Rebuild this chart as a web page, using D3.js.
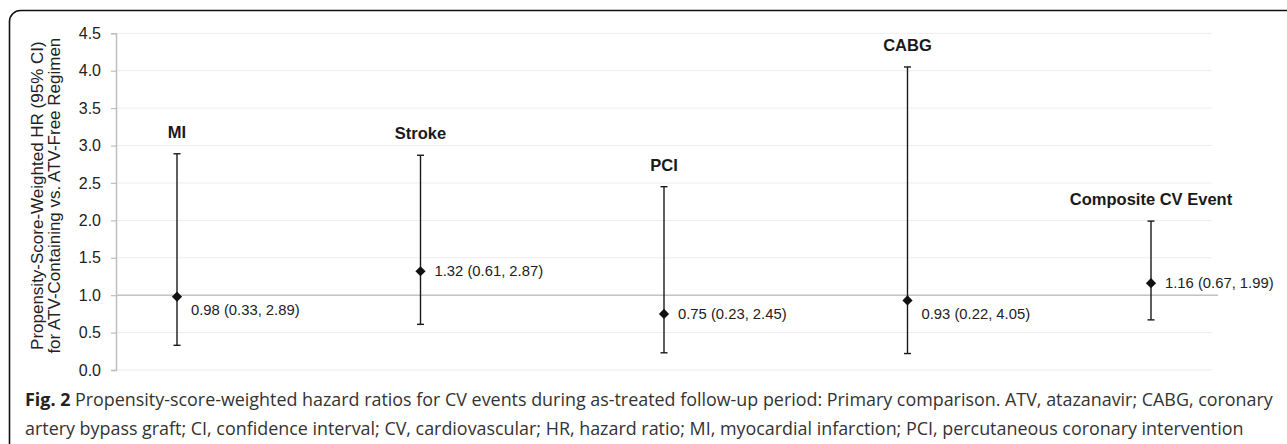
<!DOCTYPE html>
<html>
<head>
<meta charset="utf-8">
<script src="https://cdn.jsdelivr.net/npm/d3@7"></script>
<style>
  html, body { margin: 0; padding: 0; background: #fff; }
  svg { display: block; }
</style>
</head>
<body>
<div id="chart"></div>
<script>
// chart data
const events = ["MI", "Stroke", "PCI", "CABG", "Composite CV Event"];
const hr     = [0.98, 1.32, 0.75, 0.93, 1.16];
const lower  = [0.33, 0.61, 0.23, 0.22, 0.67];
const upper  = [2.89, 2.87, 2.45, 4.05, 1.99];
const yTicks = [0, 0.5, 1, 1.5, 2, 2.5, 3, 3.5, 4, 4.5];
const yTitle = ["Propensity-Score-Weighted HR (95% CI)", "for ATV-Containing vs. ATV-Free Regimen"];
const caption = [
  ["Fig. 2", " Propensity-score-weighted hazard ratios for CV events during as-treated follow-up period: Primary comparison. ATV, atazanavir; CABG, coronary"],
  ["", "artery bypass graft; CI, confidence interval; CV, cardiovascular; HR, hazard ratio; MI, myocardial infarction; PCI, percutaneous coronary intervention"]
];

const W = 1287, H = 444;
const plot = { left: 116, right: 1212, top: 33.3, bottom: 370 };

const svg = d3.select("#chart").append("svg")
  .attr("width", W).attr("height", H)
  .attr("viewBox", "0 0 " + W + " " + H);

// frame (only the top-left corner is inside the picture)
svg.append("rect")
  .attr("x", 9.5).attr("y", 10.5)
  .attr("width", 1400).attr("height", 500)
  .attr("rx", 11).attr("ry", 11)
  .attr("fill", "none").attr("stroke", "#111").attr("stroke-width", 1.6);

const y = d3.scaleLinear().domain([0, 4.5]).range([plot.bottom, plot.top]);
const x = d3.scalePoint().domain(events).range([177, 1151]);

// gridlines
svg.append("g").selectAll("line").data(yTicks).join("line")
  .attr("x1", plot.left).attr("x2", plot.right)
  .attr("y1", d => y(d)).attr("y2", d => y(d))
  .attr("stroke", "#ededed").attr("stroke-width", 1);

// y axis
const yAxis = svg.append("g")
  .attr("transform", "translate(" + plot.left + ",0)")
  .call(d3.axisLeft(y).tickValues(yTicks).tickFormat(d3.format(".1f")).tickSize(5).tickPadding(10));
yAxis.select(".domain").attr("stroke", "#bfbfbf").attr("stroke-width", 1.5);
yAxis.selectAll(".tick line").attr("stroke", "#bfbfbf").attr("stroke-width", 1.2);
yAxis.selectAll(".tick text")
  .attr("fill", "#222")
  .style("font-family", "'Liberation Sans', Arial, sans-serif")
  .style("font-size", "16px");

// reference line at HR = 1
svg.append("line")
  .attr("x1", plot.left).attr("x2", 1218)
  .attr("y1", y(1)).attr("y2", y(1))
  .attr("stroke", "#c4c4c4").attr("stroke-width", 1.6);

// axis title
const title = svg.append("text")
  .attr("transform", "translate(46," + ((plot.top + plot.bottom) / 2 - 6) + ") rotate(-90)")
  .attr("text-anchor", "middle")
  .attr("fill", "#222")
  .style("font-family", "'Liberation Sans', Arial, sans-serif")
  .style("font-size", "17px");
title.selectAll("tspan").data(yTitle).join("tspan")
  .attr("x", 0)
  .attr("dy", (d, i) => i === 0 ? "-0.2em" : "1.05em")
  .text(d => d);

const rows = events.map((e, i) => ({ e, hr: hr[i], lo: lower[i], hi: upper[i] }));

// whiskers
const g = svg.append("g");
g.selectAll(".ci").data(rows).join("line")
  .attr("x1", d => x(d.e)).attr("x2", d => x(d.e))
  .attr("y1", d => y(d.lo)).attr("y2", d => y(d.hi))
  .attr("stroke", "#1a1a1a").attr("stroke-width", 1.4);
["lo", "hi"].forEach(k => {
  g.selectAll(".cap-" + k).data(rows).join("line")
    .attr("x1", d => x(d.e) - 3.5).attr("x2", d => x(d.e) + 3.5)
    .attr("y1", d => y(d[k])).attr("y2", d => y(d[k]))
    .attr("stroke", "#1a1a1a").attr("stroke-width", 1.4);
});

// point estimates
g.selectAll(".pt").data(rows).join("path")
  .attr("d", d3.symbol(d3.symbolSquare, 52))
  .attr("transform", d => "translate(" + x(d.e) + "," + y(d.hr) + ") rotate(45)")
  .attr("fill", "#111");

// value labels (pushed below the reference line when they would sit on it)
const f2 = d3.format(".2f");
g.selectAll(".val").data(rows).join("text")
  .attr("x", d => x(d.e) + 14)
  .attr("y", d => y(d.hr) + 5 + (Math.abs(d.hr - 1) < 0.1 ? 13.5 : 0))
  .attr("fill", "#222")
  .style("font-family", "'Liberation Sans', Arial, sans-serif")
  .style("font-size", "14.8px")
  .text(d => f2(d.hr) + " (" + f2(d.lo) + ", " + f2(d.hi) + ")");

// event names
g.selectAll(".name").data(rows).join("text")
  .attr("x", d => x(d.e))
  .attr("y", d => y(d.hi) - 16)
  .attr("text-anchor", "middle")
  .attr("fill", "#1a1a1a")
  .style("font-family", "'Liberation Sans', Arial, sans-serif")
  .style("font-weight", "bold")
  .style("font-size", "16.5px")
  .text(d => d.e);

// caption
const cap = svg.append("g")
  .style("font-family", "'Open Sans', 'Noto Sans', sans-serif")
  .style("font-size", "17.9px");
caption.forEach((line, i) => {
  const t = cap.append("text").attr("x", 25).attr("y", 406 + i * 29).attr("fill", "#333");
  if (line[0]) t.append("tspan").attr("font-weight", "bold").attr("fill", "#222").text(line[0]);
  t.append("tspan").text(line[1]);
});
</script>
</body>
</html>
